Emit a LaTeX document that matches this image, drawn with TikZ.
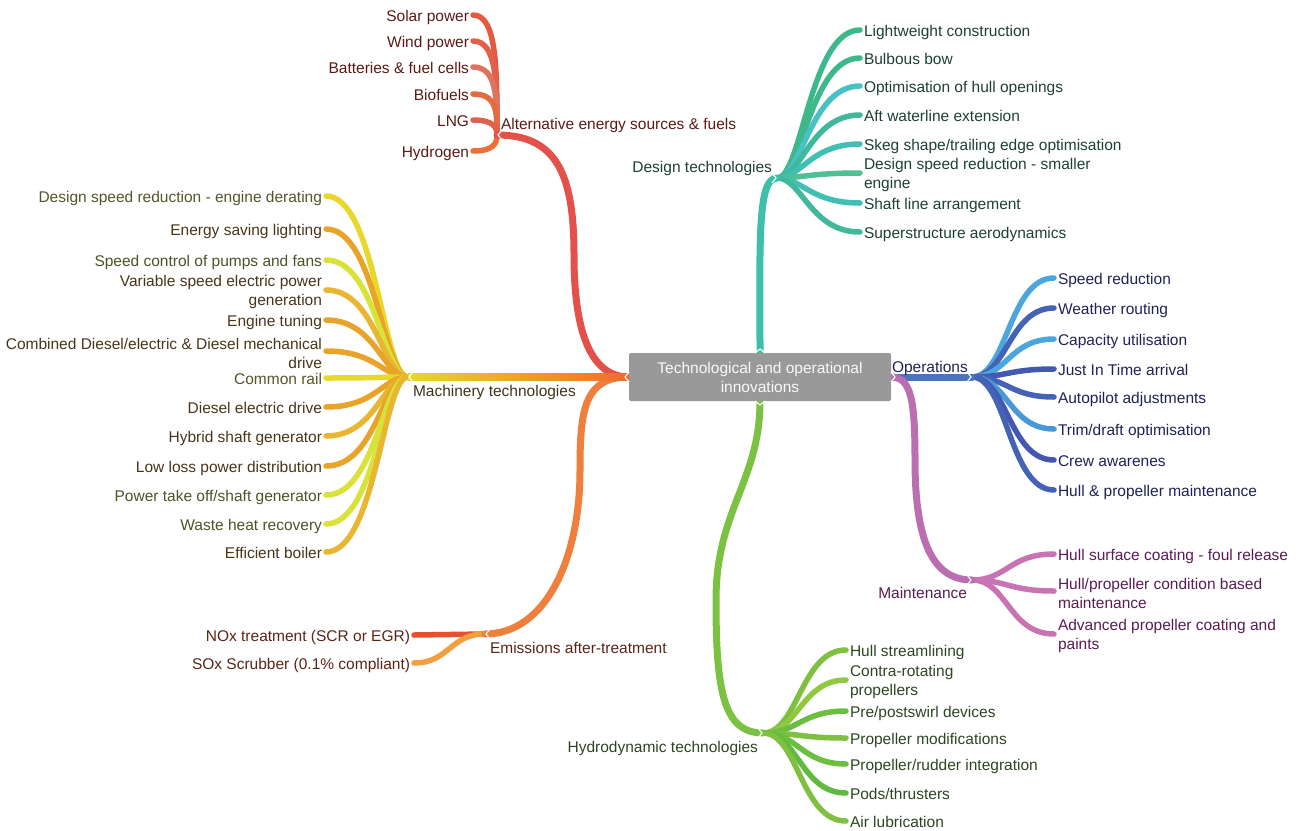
\documentclass[tikz,border=0pt]{standalone}
\usepackage{fontspec}
\setmainfont{Liberation Sans}
\pgfdeclarelayer{bg}
\pgfsetlayers{bg,main}
\definecolor{cGray}{HTML}{999999}
% alt energy
\definecolor{cAtx}{HTML}{5C1A14}
\definecolor{cAm}{HTML}{E4504A}
\definecolor{cA1}{HTML}{E45A40}
\definecolor{cA2}{HTML}{E2604A}
\definecolor{cA3}{HTML}{E07262}
\definecolor{cA4}{HTML}{E46A40}
\definecolor{cA5}{HTML}{E0604E}
\definecolor{cA6}{HTML}{EA7038}
% machinery
\definecolor{cMtxY}{HTML}{55552A}
\definecolor{cMtxO}{HTML}{4A3418}
\definecolor{cMtxG}{HTML}{4A5428}
\definecolor{cMtx}{HTML}{3F3418}
\definecolor{cMY}{HTML}{E8D82C}
\definecolor{cMO}{HTML}{E8A328}
\definecolor{cMG}{HTML}{D8E238}
\definecolor{cMD}{HTML}{E8B630}
\definecolor{cMred}{HTML}{F06A30}
% emissions
\definecolor{cEtx}{HTML}{5C2416}
\definecolor{cEm}{HTML}{EF7F3C}
\definecolor{cE1}{HTML}{E85030}
\definecolor{cE2}{HTML}{F0A040}
% design
\definecolor{cDtx}{HTML}{1C4034}
\definecolor{cDm}{HTML}{3DBFAA}
\definecolor{cD1}{HTML}{3CB88A}
\definecolor{cD2}{HTML}{48C0C4}
\definecolor{cD3}{HTML}{40B89C}
\definecolor{cD4}{HTML}{40C0B2}
\definecolor{cD5}{HTML}{50C094}
% operations
\definecolor{cOtx}{HTML}{1E2256}
\definecolor{cOm}{HTML}{4A74BF}
\definecolor{cOl}{HTML}{4AA6DC}
\definecolor{cOd}{HTML}{4462B6}
\definecolor{cOn}{HTML}{4458B0}
\definecolor{cOt}{HTML}{4898D8}
% maintenance
\definecolor{cNtx}{HTML}{5A1C56}
\definecolor{cNm}{HTML}{BB6FB0}
\definecolor{cN1}{HTML}{C874B4}
% hydrodynamic
\definecolor{cHtx}{HTML}{2C4620}
\definecolor{cHm}{HTML}{7CC242}
\definecolor{cH1}{HTML}{80C040}
\definecolor{cH2}{HTML}{90C840}
\definecolor{cH3}{HTML}{6CBE40}
\definecolor{cH4}{HTML}{60BA40}
\begin{document}
\begin{tikzpicture}[x=1pt,y=-1pt,
  fnt/.style={font=\fontsize{15.5}{19}\selectfont},
  lbl/.style={fnt, inner sep=0pt, outer xsep=4pt, outer ysep=0pt},
  one/.style={text height=13.5pt, text depth=1.5pt},
  mlbl/.style={fnt, inner sep=0pt, outer sep=0pt, text height=13.5pt, text depth=1.5pt},
  br/.style={line width=5.5pt, line cap=round},
  mb/.style={line width=7pt, line cap=round},
  notch/.style={white, line width=1.1pt, line join=miter}]
\useasboundingbox (0,0) rectangle (1308,830);

% central node
\node[fnt, fill=cGray, rounded corners=2pt, minimum width=262pt, minimum height=48pt,
      inner sep=0pt, outer sep=0pt, text=white!95!gray, align=center] (C) at (760,377)
      {Technological and operational\\innovations};

% hubs
\coordinate (hA) at (497,135);
\coordinate (hM) at (408,377);
\coordinate (hE) at (485,634);
\coordinate (hD) at (777,178);
\coordinate (hO) at (972,377);
\coordinate (hN) at (972,580);
\coordinate (hH) at (763,733);

% main labels
\node[mlbl, anchor=west, text=cAtx] (lA) at (501,123) {Alternative energy sources \& fuels};
\node[mlbl, anchor=west, text=cMtx] (lM) at (413,390) {Machinery technologies};
\node[mlbl, anchor=west, text=cEtx] (lE) at (490,647) {Emissions after-treatment};
\node[mlbl, anchor=east, text=cDtx] (lD) at (772,166) {Design technologies};
\node[mlbl, anchor=west, text=cOtx] (lO) at (892,366) {Operations};
\node[mlbl, anchor=east, text=cNtx] (lN) at (967,592) {Maintenance};
\node[mlbl, anchor=east, text=cHtx] (lH) at (758,746) {Hydrodynamic technologies};

% alt energy leaves
\node[lbl,one,anchor=east,text=cAtx] (a1) at (473,15) {Solar power};
\node[lbl,one,anchor=east,text=cAtx] (a2) at (473,41) {Wind power};
\node[lbl,one,anchor=east,text=cAtx] (a3) at (473,67) {Batteries \& fuel cells};
\node[lbl,one,anchor=east,text=cAtx] (a4) at (473,94) {Biofuels};
\node[lbl,one,anchor=east,text=cAtx] (a5) at (473,120) {LNG};
\node[lbl,one,anchor=east,text=cAtx] (a6) at (473,151) {Hydrogen};

% machinery leaves
\node[lbl,one,anchor=east,text=cMtxY] (m1) at (326,196) {Design speed reduction - engine derating};
\node[lbl,one,anchor=east,text=cMtxO] (m2) at (326,229) {Energy saving lighting};
\node[lbl,one,anchor=east,text=cMtxG] (m3) at (326,260) {Speed control of pumps and fans};
\node[lbl,anchor=east,align=right,text=cMtxO] (m4) at (326,292) {Variable speed electric power\\generation};
\node[lbl,one,anchor=east,text=cMtxO] (m5) at (326,320) {Engine tuning};
\node[lbl,anchor=east,align=right,text=cMtxO] (m6) at (326,353) {Combined Diesel/electric \& Diesel mechanical\\drive};
\node[lbl,one,anchor=east,text=cMtxY] (m7) at (326,378) {Common rail};
\node[lbl,one,anchor=east,text=cMtxO] (m8) at (326,407) {Diesel electric drive};
\node[lbl,one,anchor=east,text=cMtxO] (m9) at (326,436) {Hybrid shaft generator};
\node[lbl,one,anchor=east,text=cMtxO] (m10) at (326,466) {Low loss power distribution};
\node[lbl,one,anchor=east,text=cMtxG] (m11) at (326,495) {Power take off/shaft generator};
\node[lbl,one,anchor=east,text=cMtxG] (m12) at (326,524) {Waste heat recovery};
\node[lbl,one,anchor=east,text=cMtxO] (m13) at (326,552) {Efficient boiler};

% emissions leaves
\node[lbl,one,anchor=east,text=cEtx] (e1) at (414,635) {NOx treatment (SCR or EGR)};
\node[lbl,one,anchor=east,text=cEtx] (e2) at (414,663) {SOx Scrubber (0.1\% compliant)};

% design leaves
\node[lbl,one,anchor=west,text=cDtx] (d1) at (860,30) {Lightweight construction};
\node[lbl,one,anchor=west,text=cDtx] (d2) at (860,58) {Bulbous bow};
\node[lbl,one,anchor=west,text=cDtx] (d3) at (860,86) {Optimisation of hull openings};
\node[lbl,one,anchor=west,text=cDtx] (d4) at (860,115) {Aft waterline extension};
\node[lbl,one,anchor=west,text=cDtx] (d5) at (860,144) {Skeg shape/trailing edge optimisation};
\node[lbl,anchor=west,align=left,text=cDtx] (d6) at (860,175) {Design speed reduction - smaller\\engine};
\node[lbl,one,anchor=west,text=cDtx] (d7) at (860,203) {Shaft line arrangement};
\node[lbl,one,anchor=west,text=cDtx] (d8) at (860,232) {Superstructure aerodynamics};

% operations leaves
\node[lbl,one,anchor=west,text=cOtx] (o1) at (1054,278) {Speed reduction};
\node[lbl,one,anchor=west,text=cOtx] (o2) at (1054,308) {Weather routing};
\node[lbl,one,anchor=west,text=cOtx] (o3) at (1054,339) {Capacity utilisation};
\node[lbl,one,anchor=west,text=cOtx] (o4) at (1054,369) {Just In Time arrival};
\node[lbl,one,anchor=west,text=cOtx] (o5) at (1054,397) {Autopilot adjustments};
\node[lbl,one,anchor=west,text=cOtx] (o6) at (1054,429) {Trim/draft optimisation};
\node[lbl,one,anchor=west,text=cOtx] (o7) at (1054,460) {Crew awarenes};
\node[lbl,one,anchor=west,text=cOtx] (o8) at (1054,490) {Hull \& propeller maintenance};

% maintenance leaves
\node[lbl,one,anchor=west,text=cNtx] (n1) at (1054,554) {Hull surface coating - foul release};
\node[lbl,anchor=west,align=left,text=cNtx] (n2) at (1054,593) {Hull/propeller condition based\\maintenance};
\node[lbl,anchor=west,align=left,text=cNtx] (n3) at (1054,636) {Advanced propeller coating and\\paints};

% hydrodynamic leaves
\node[lbl,one,anchor=west,text=cHtx] (h1) at (846,650) {Hull streamlining};
\node[lbl,anchor=west,align=left,text=cHtx] (h2) at (846,682) {Contra-rotating\\propellers};
\node[lbl,one,anchor=west,text=cHtx] (h3) at (846,711) {Pre/postswirl devices};
\node[lbl,one,anchor=west,text=cHtx] (h4) at (846,738) {Propeller modifications};
\node[lbl,one,anchor=west,text=cHtx] (h5) at (846,764) {Propeller/rudder integration};
\node[lbl,one,anchor=west,text=cHtx] (h6) at (846,793) {Pods/thrusters};
\node[lbl,one,anchor=west,text=cHtx] (h7) at (846,821) {Air lubrication};

\begin{pgfonlayer}{bg}
% alt energy sub-branches
\draw[br,cA1] (hA) .. controls +(0,-66) and +(24,0) .. (a1.east);
\draw[br,cA2] (hA) .. controls +(0,-52) and +(24,0) .. (a2.east);
\draw[br,cA3] (hA) .. controls +(0,-37) and +(24,0) .. (a3.east);
\draw[br,cA4] (hA) .. controls +(0,-23) and +(24,0) .. (a4.east);
\draw[br,cA5] (hA) .. controls +(0,-8) and +(20,0) .. (a5.east);
\draw[br,cA6] (hA) .. controls +(0,9) and +(20,0) .. (a6.east);

% machinery sub-branches
\draw[br,cMY] (hM) .. controls +(-25,0) and +(50,0) .. (m1.east);
\draw[br,cMO] (hM) .. controls +(-25,0) and +(50,0) .. (m2.east);
\draw[br,cMG] (hM) .. controls +(-25,0) and +(50,0) .. (m3.east);
\draw[br,cMD] (hM) .. controls +(-25,0) and +(50,0) .. ([yshift=2pt]m4.east);
\draw[br,cMO] (hM) .. controls +(-25,0) and +(50,0) .. (m5.east);
\draw[br,cMO] (hM) .. controls +(-25,0) and +(50,0) .. ([yshift=2pt]m6.east);
\draw[br,cMY] (hM) .. controls +(-25,0) and +(50,0) .. (m7.east);
\draw[br,cMO] (hM) .. controls +(-25,0) and +(50,0) .. (m8.east);
\draw[br,cMD] (hM) .. controls +(-25,0) and +(50,0) .. (m9.east);
\draw[br,cMO] (hM) .. controls +(-25,0) and +(50,0) .. (m10.east);
\draw[br,cMG] (hM) .. controls +(-25,0) and +(50,0) .. (m11.east);
\draw[br,cMG] (hM) .. controls +(-25,0) and +(50,0) .. (m12.east);
\draw[br,cMD] (hM) .. controls +(-25,0) and +(50,0) .. (m13.east);

% emissions sub-branches
\draw[br,cE1] (hE) -- (e1.east);
\draw[br,cE2] (hE) .. controls +(-35,0) and +(35,0) .. (e2.east);

% design sub-branches
\draw[br,cD1] (hD) .. controls +(25,0) and +(-50,0) .. (d1.west);
\draw[br,cD1] (hD) .. controls +(25,0) and +(-50,0) .. (d2.west);
\draw[br,cD2] (hD) .. controls +(25,0) and +(-50,0) .. (d3.west);
\draw[br,cD3] (hD) .. controls +(25,0) and +(-50,0) .. (d4.west);
\draw[br,cD4] (hD) .. controls +(25,0) and +(-50,0) .. (d5.west);
\draw[br,cD5] (hD) .. controls +(25,0) and +(-50,0) .. ([yshift=2pt]d6.west);
\draw[br,cD4] (hD) .. controls +(25,0) and +(-50,0) .. (d7.west);
\draw[br,cD3] (hD) .. controls +(25,0) and +(-50,0) .. (d8.west);

% operations sub-branches
\draw[br,cOl] (hO) .. controls +(35,0) and +(-45,0) .. (o1.west);
\draw[br,cOd] (hO) .. controls +(35,0) and +(-45,0) .. (o2.west);
\draw[br,cOl] (hO) .. controls +(35,0) and +(-45,0) .. (o3.west);
\draw[br,cOn] (hO) .. controls +(35,0) and +(-45,0) .. (o4.west);
\draw[br,cOd] (hO) .. controls +(35,0) and +(-45,0) .. (o5.west);
\draw[br,cOt] (hO) .. controls +(35,0) and +(-45,0) .. (o6.west);
\draw[br,cOn] (hO) .. controls +(35,0) and +(-45,0) .. (o7.west);
\draw[br,cOd] (hO) .. controls +(35,0) and +(-45,0) .. (o8.west);

% maintenance sub-branches
\draw[br,cN1] (hN) .. controls +(35,0) and +(-45,0) .. (n1.west);
\draw[br,cN1] (hN) .. controls +(35,0) and +(-45,0) .. ([yshift=2pt]n2.west);
\draw[br,cN1] (hN) .. controls +(35,0) and +(-45,0) .. ([yshift=2pt]n3.west);

% hydrodynamic sub-branches
\draw[br,cH1] (hH) .. controls +(35,0) and +(-45,0) .. (h1.west);
\draw[br,cH2] (hH) .. controls +(35,0) and +(-45,0) .. ([yshift=2pt]h2.west);
\draw[br,cH3] (hH) .. controls +(35,0) and +(-45,0) .. (h3.west);
\draw[br,cH1] (hH) .. controls +(35,0) and +(-45,0) .. (h4.west);
\draw[br,cH3] (hH) .. controls +(35,0) and +(-45,0) .. (h5.west);
\draw[br,cH4] (hH) .. controls +(35,0) and +(-45,0) .. (h6.west);
\draw[br,cH1] (hH) .. controls +(35,0) and +(-45,0) .. (h7.west);

% main branches
\draw[mb,cAm] (C.west) .. controls +(-45,0) and +(0,60) .. (574,255)
   .. controls +(0,-80) and +(60,0) .. (hA);
\draw[mb,cEm] (C.west) .. controls +(-45,0) and +(0,-60) .. (580,470)
   .. controls +(0,90) and +(60,0) .. (hE);
\shade[left color=cMY, middle color=cMY, right color=cMred]
   ([yshift=-3.5pt]hM) rectangle ([yshift=3.5pt]C.west);
\draw[mb,cDm] (C.north) .. controls +(0,-110) and +(-20,0) .. (hD);
\draw[mb,cOm] (C.east) -- (hO);
\draw[mb,cNm] (C.east) .. controls +(20,0) and +(0,-60) .. (915,460)
   .. controls +(0,80) and +(-40,0) .. (hN);
\draw[mb,cHm] (C.south) .. controls +(0,80) and +(0,-90) .. (716,600)
   .. controls +(0,90) and +(-40,0) .. (hH);
\end{pgfonlayer}

% white notches where branches meet
\draw[notch] ([shift={(5,-5)}]hA) -- ([shift={(1,0)}]hA) -- ([shift={(5,5)}]hA);
\draw[notch] ([shift={(5,-5)}]hM) -- ([shift={(1,0)}]hM) -- ([shift={(5,5)}]hM);
\draw[notch] ([shift={(5,-5)}]hE) -- ([shift={(1,0)}]hE) -- ([shift={(5,5)}]hE);
\draw[notch] ([shift={(-5,-5)}]hD) -- ([shift={(-1,0)}]hD) -- ([shift={(-5,5)}]hD);
\draw[notch] ([shift={(-5,-5)}]hO) -- ([shift={(-1,0)}]hO) -- ([shift={(-5,5)}]hO);
\draw[notch] ([shift={(-5,-5)}]hN) -- ([shift={(-1,0)}]hN) -- ([shift={(-5,5)}]hN);
\draw[notch] ([shift={(-5,-5)}]hH) -- ([shift={(-1,0)}]hH) -- ([shift={(-5,5)}]hH);
\draw[notch] ([shift={(0,-5)}]C.west) -- ([shift={(-4,0)}]C.west) -- ([shift={(0,5)}]C.west);
\draw[notch] ([shift={(0,-5)}]C.east) -- ([shift={(4,0)}]C.east) -- ([shift={(0,5)}]C.east);
\draw[notch] ([shift={(-5,0)}]C.north) -- ([shift={(0,-4)}]C.north) -- ([shift={(5,0)}]C.north);
\draw[notch] ([shift={(-5,0)}]C.south) -- ([shift={(0,4)}]C.south) -- ([shift={(5,0)}]C.south);
\end{tikzpicture}
\end{document}
